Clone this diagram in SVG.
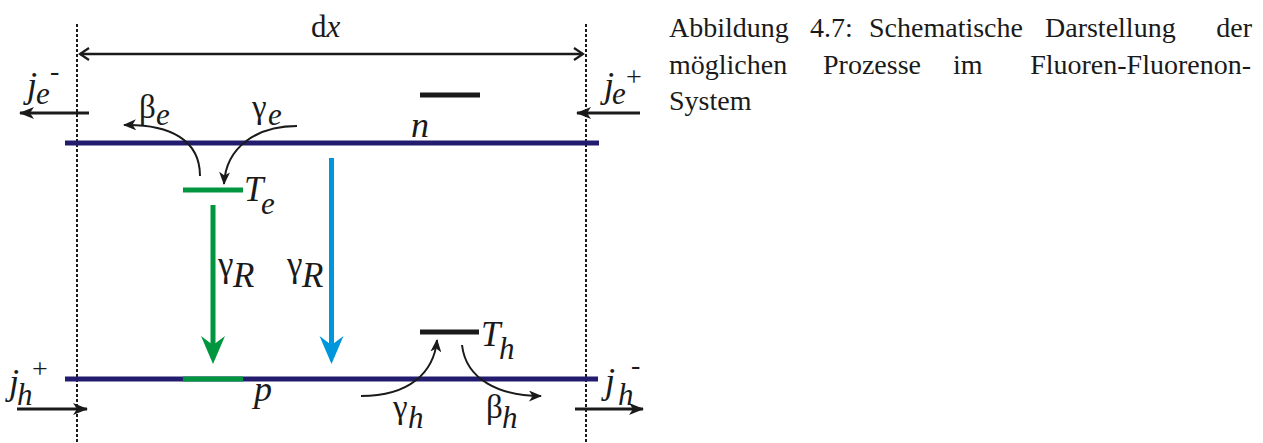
<svg xmlns="http://www.w3.org/2000/svg" width="1263" height="443" viewBox="0 0 1263 443">
<style>
.lbl{font-family:"Liberation Serif","DejaVu Serif","Times New Roman",serif;font-style:italic;fill:#1a1a1a}
.gr{font-family:"Liberation Serif","DejaVu Serif","Times New Roman",serif;font-style:normal;fill:#1a1a1a}
.rm{font-family:"Liberation Serif","DejaVu Serif","Times New Roman",serif;fill:#1a1a1a}
.cap{font-family:"Liberation Serif","DejaVu Serif","Times New Roman",serif;font-size:28px;fill:#1a1a1a}
.dot{stroke:#1a1a1a;stroke-width:2;stroke-dasharray:3 2;fill:none}
.band{stroke:#231c6e;stroke-width:5;fill:none}
.lev{stroke:#1a1a1a;stroke-width:5;fill:none}
.grn{stroke:#00963f;stroke-width:5;fill:none}
.blu{stroke:#0096db;stroke-width:5;fill:none}
.crv{stroke:#1a1a1a;stroke-width:2;fill:none}
.flux{stroke:#1a1a1a;stroke-width:3;fill:none}
</style>
<defs>
<marker id="ah" markerWidth="16" markerHeight="12" refX="14" refY="6" orient="auto" markerUnits="userSpaceOnUse">
<path d="M0,0 L15,6 L0,12 L4,6 z" fill="#1a1a1a"/>
</marker>
<marker id="ahs" markerWidth="14" markerHeight="11" refX="12" refY="5.5" orient="auto" markerUnits="userSpaceOnUse">
<path d="M0,0 L13,5.5 L0,11 L3.5,5.5 z" fill="#1a1a1a"/>
</marker>
<marker id="open" markerWidth="12" markerHeight="14" refX="10" refY="7" orient="auto-start-reverse" markerUnits="userSpaceOnUse">
<path d="M1,1 L10,7 L1,13" fill="none" stroke="#1a1a1a" stroke-width="2.2"/>
</marker>
</defs>

<g id="boundaries">
<line class="dot" x1="77" y1="24" x2="77" y2="443"/>
<line class="dot" x1="586" y1="24" x2="586" y2="443"/>
</g>

<g id="conduction-band">
<line class="band" x1="65" y1="143" x2="599" y2="143"/>
<text class="lbl" x="411" y="137" font-size="36">n</text>
</g>

<g id="valence-band">
<line class="band" x1="65" y1="379" x2="598" y2="379"/>
<line class="grn" x1="183" y1="379" x2="243" y2="379"/>
<text class="lbl" x="254" y="401" font-size="36">p</text>
</g>

<g id="level-n">
<line class="lev" x1="420" y1="95" x2="480" y2="95"/>
</g>

<g id="Te">
<line class="grn" x1="183" y1="190" x2="243" y2="190"/>
<text class="lbl" x="244" y="201" font-size="35">T</text>
<text class="lbl" x="261" y="214" font-size="31">e</text>
</g>

<g id="Th">
<line class="lev" x1="420" y1="332" x2="479" y2="332"/>
<text class="lbl" x="481" y="346" font-size="35">T</text>
<text class="lbl" x="499" y="359" font-size="31">h</text>
</g>

<g id="connectors">
<line x1="80" y1="54" x2="583" y2="54" stroke="#1a1a1a" stroke-width="2.5" marker-start="url(#open)" marker-end="url(#open)"/>
<line class="flux" x1="89" y1="113" x2="20" y2="113" marker-end="url(#ah)"/>
<line class="flux" x1="640" y1="113" x2="577" y2="113" marker-end="url(#ah)"/>
<line class="flux" x1="17" y1="409" x2="87" y2="409" marker-end="url(#ah)"/>
<line class="flux" x1="575" y1="409" x2="643" y2="409" marker-end="url(#ah)"/>
<path class="crv" d="M200,176 C200,140 170,124 124,125" marker-end="url(#ahs)"/>
<path class="crv" d="M297,126 C258,126 226,146 224,184" marker-end="url(#ahs)"/>
<path class="crv" d="M361,396 C410,396 434,372 437,340" marker-end="url(#ahs)"/>
<path class="crv" d="M462,345 C466,380 500,396 541,396" marker-end="url(#ahs)"/>
<line class="grn" x1="213" y1="205" x2="213" y2="345"/>
<path d="M201,336 L213,364 L225,336 L213,345 z" fill="#00963f"/>
<line class="blu" x1="331.5" y1="158" x2="331.5" y2="345"/>
<path d="M319.5,336 L331.5,364 L343.5,336 L331.5,345 z" fill="#0096db"/>
</g>

<g id="labels">
<text class="rm" x="311" y="37" font-size="31">d<tspan font-style="italic">x</tspan></text>
<text class="lbl" x="27" y="97" font-size="36">j<tspan x="36" y="104" font-size="31">e</tspan></text>
<text class="gr" x="50" y="80" font-size="28">-</text>
<text class="lbl" x="604" y="97" font-size="36">j<tspan x="612" y="104" font-size="31">e</tspan></text>
<text class="gr" x="626" y="86" font-size="28">+</text>
<text class="lbl" x="9" y="394" font-size="36">j<tspan x="17" y="405" font-size="31">h</tspan></text>
<text class="gr" x="32" y="378" font-size="28">+</text>
<text class="lbl" x="605" y="393" font-size="36">j<tspan x="618" y="405" font-size="31">h</tspan></text>
<text class="gr" x="631" y="374" font-size="28">-</text>
<text class="gr" x="139" y="118" font-size="33">β<tspan class="lbl" x="156" y="125" font-size="31">e</tspan></text>
<text class="gr" x="252" y="118" font-size="33">γ<tspan class="lbl" x="268" y="125" font-size="31">e</tspan></text>
<text class="gr" x="218" y="276" font-size="35">γ<tspan class="lbl" x="233" y="287" font-size="35">R</tspan></text>
<text class="gr" x="287" y="276" font-size="35">γ<tspan class="lbl" x="302" y="287" font-size="35">R</tspan></text>
<text class="gr" x="393" y="418" font-size="33">γ<tspan class="lbl" x="408" y="428" font-size="31">h</tspan></text>
<text class="gr" x="486" y="418" font-size="33">β<tspan class="lbl" x="502" y="428" font-size="31">h</tspan></text>
</g>

<g id="caption">
<text class="cap" x="669" y="37">Abbildung</text>
<text class="cap" x="810" y="37">4.7:</text>
<text class="cap" x="869" y="37">Schematische</text>
<text class="cap" x="1045" y="37">Darstellung</text>
<text class="cap" x="1252" y="37" text-anchor="end">der</text>
<text class="cap" x="669" y="74">möglichen</text>
<text class="cap" x="823" y="74">Prozesse</text>
<text class="cap" x="953" y="74">im</text>
<text class="cap" x="1251" y="74" text-anchor="end">Fluoren-Fluorenon-</text>
<text class="cap" x="669" y="110">System</text>
</g>
</svg>
